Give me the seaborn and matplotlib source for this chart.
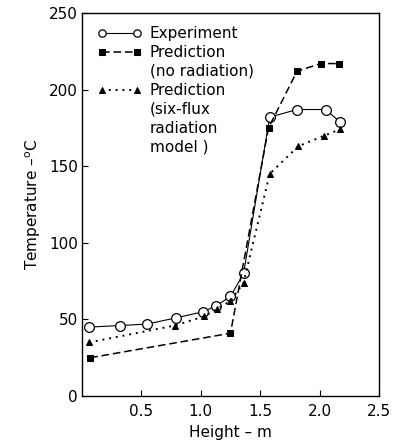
import matplotlib
matplotlib.use("Agg")
import matplotlib.pyplot as plt
from matplotlib.lines import Line2D
import seaborn as sns
import pandas as pd

exp_x = [0.06, 0.32, 0.55, 0.79, 1.02, 1.13, 1.25, 1.36, 1.58, 1.81, 2.05, 2.17]
exp_y = [45, 46, 47, 51, 55, 59, 65, 80, 182, 187, 187, 179]

norad_x = [0.07, 1.25, 1.57, 1.81, 2.01, 2.16]
norad_y = [25, 41, 175, 212, 217, 217]

six_x = [0.06, 0.78, 1.03, 1.14, 1.25, 1.36, 1.58, 1.82, 2.04, 2.17]
six_y = [35, 46, 52, 57, 62, 74, 145, 163, 170, 174]

labels = ["Experiment", "Prediction\n(no radiation)", "Prediction\n(six-flux\nradiation\nmodel )"]

sns.set_theme(style="ticks")
plt.rcParams['font.family'] = ['DejaVu Sans']
plt.rcParams['text.color'] = 'black'
plt.rcParams['axes.labelcolor'] = 'black'

fig = plt.figure(figsize=(3.94, 4.48), dpi=100)
ax = fig.add_axes([0.208, 0.116, 0.754, 0.855])

df_exp = pd.DataFrame({"x": exp_x, "y": exp_y})
df_nr = pd.DataFrame({"x": norad_x, "y": norad_y})
df_six = pd.DataFrame({"x": six_x, "y": six_y})

sns.lineplot(data=df_exp, x="x", y="y", ax=ax, color="black", lw=0.8, linestyle="-",
             marker="o", markersize=7, markerfacecolor="white", markeredgecolor="black",
             markeredgewidth=0.9, sort=False, label=labels[0])
sns.lineplot(data=df_nr, x="x", y="y", ax=ax, color="black", lw=1.1, linestyle=(0, (5, 2.5)),
             marker="s", markersize=5, markerfacecolor="black", markeredgecolor="black",
             sort=False, label=labels[1])
sns.lineplot(data=df_six, x="x", y="y", ax=ax, color="black", lw=1.4, linestyle=(0, (1, 2.5)),
             marker="^", markersize=5, markerfacecolor="black", markeredgecolor="black",
             sort=False, label=labels[2])

ax.set_xlim(0, 2.5)
ax.set_ylim(0, 250)
ax.set_xticks([0.5, 1.0, 1.5, 2.0, 2.5])
ax.set_xticklabels(["0.5", "1.0", "1.5", "2.0", "2.5"])
ax.set_yticks([0, 50, 100, 150, 200, 250])
ax.tick_params(direction="in", length=4, width=0.8, labelsize=11, colors="black", pad=3)
ax.tick_params(axis="x", pad=6)
for s in ax.spines.values():
    s.set_visible(True)
    s.set_linewidth(1.0)
    s.set_color("black")

ax.set_xlabel("Height – m", fontsize=11, labelpad=4)
ax.set_ylabel("Temperature –$^{\\rm o}$C", fontsize=11, labelpad=4)

# Legend: one row per text line, handle aligned with the first line of each entry
handles, labs = ax.get_legend_handles_labels()
rows_h, rows_l = [], []
for h, lab in zip(handles, labs):
    parts = lab.split("\n")
    rows_h.append(h)
    rows_l.append(parts[0])
    for p in parts[1:]:
        rows_h.append(Line2D([], [], linestyle="none", marker=None))
        rows_l.append(p)

leg = ax.legend(rows_h, rows_l, loc="upper left", bbox_to_anchor=(0.032, 0.982), frameon=False,
                numpoints=2, handlelength=2.9, markerscale=0.75, fontsize=11, borderaxespad=0.0,
                handletextpad=0.5, labelspacing=0.26, labelcolor="black")

fig.savefig("out.png", dpi=100)
